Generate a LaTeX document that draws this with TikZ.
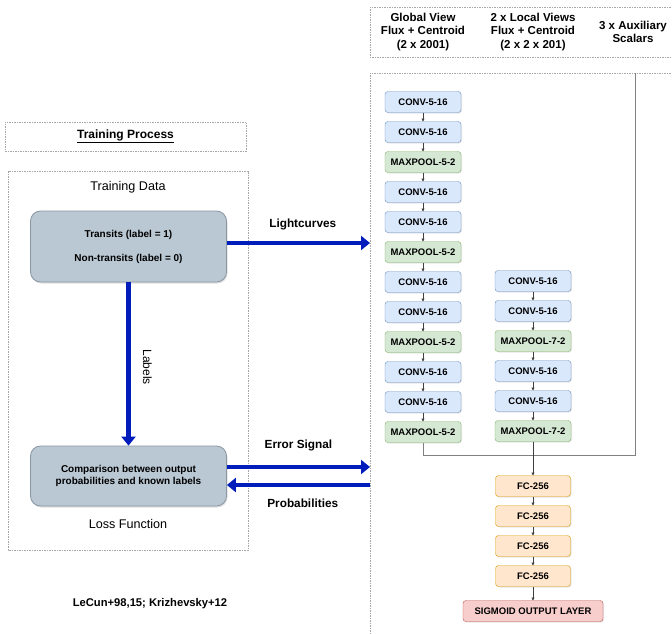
\documentclass[tikz,border=0pt]{standalone}
\usepackage{fontspec}
\setmainfont{Liberation Sans}
\usetikzlibrary{positioning, arrows.meta, shadows}

\definecolor{convfill}{HTML}{DAE8FC}
\definecolor{convline}{HTML}{6C8EBF}
\definecolor{poolfill}{HTML}{D5E8D4}
\definecolor{poolline}{HTML}{82B366}
\definecolor{fcfill}{HTML}{FFE6CC}
\definecolor{fcline}{HTML}{D79B00}
\definecolor{outfill}{HTML}{F8CECC}
\definecolor{outborder}{HTML}{B85450}
\definecolor{datafill}{HTML}{BAC8D3}
\definecolor{dataline}{HTML}{8A97A3}
\definecolor{flowblue}{HTML}{001DBC}

\begin{document}
\begin{tikzpicture}[
            x=1pt, y=-1pt,
            node distance=9pt,
            layer/.style={rectangle, draw, rounded corners=3pt, minimum width=76pt, minimum height=21pt, inner sep=0pt, outer sep=0pt,
                font=\fontsize{9.5}{11}\selectfont\bfseries, drop shadow={shadow xshift=1pt, shadow yshift=-1pt, opacity=0.2}},
            conv/.style={layer, fill=convfill, draw=convline},
            pool/.style={layer, fill=poolfill, draw=poolline},
            fc/.style={layer, fill=fcfill, draw=fcline, minimum width=75pt},
            sigmoid/.style={layer, fill=outfill, draw=outborder, minimum width=140pt},
            databox/.style={rectangle, draw=dataline, fill=datafill, rounded corners=10pt, minimum width=196pt, thick, align=center,
                font=\fontsize{10}{12.5}\selectfont\bfseries, drop shadow={shadow xshift=1pt, shadow yshift=-1.5pt, opacity=0.25}},
            header/.style={align=center, font=\fontsize{11.5}{13.2}\selectfont\bfseries},
            frame/.style={draw=gray!70, dash pattern=on 1.5pt off 1pt},
            flow/.style={draw=flowblue, line width=4.5pt, -{Triangle[length=9pt, width=14pt]}},
            flowlabel/.style={font=\fontsize{11.8}{14}\selectfont\bfseries},
            layerarrow/.style={draw=black!75, line width=0.5pt, -{Triangle[length=3pt, width=3pt]}},
            merge/.style={draw=gray, line width=1pt}
        ]
        \useasboundingbox (0,0) rectangle (672,634);

        % Network input headers
        \draw[frame] (673,7) -- (370,7) -- (370,57) -- (673,57);
        \node[header] (hglobal) at (423,32) {Global View\\Flux + Centroid\\(2 x 2001)};
        \node[header] (hlocal) at (533,32) {2 x Local Views\\Flux + Centroid\\(2 x 2 x 201)};
        \node[header] (haux) at (633,31.5) {3 x Auxiliary\\Scalars};

        % Network frame
        \draw[frame] (673,73) -- (370,73) -- (370,635);

        % Global view column
        \node[conv] (g1) at (423,102) {CONV-5-16};
        \node[conv, below=of g1] (g2) {CONV-5-16};
        \node[pool, below=of g2] (g3) {MAXPOOL-5-2};
        \node[conv, below=of g3] (g4) {CONV-5-16};
        \node[conv, below=of g4] (g5) {CONV-5-16};
        \node[pool, below=of g5] (g6) {MAXPOOL-5-2};
        \node[conv, below=of g6] (g7) {CONV-5-16};
        \node[conv, below=of g7] (g8) {CONV-5-16};
        \node[pool, below=of g8] (g9) {MAXPOOL-5-2};
        \node[conv, below=of g9] (g10) {CONV-5-16};
        \node[conv, below=of g10] (g11) {CONV-5-16};
        \node[pool, below=of g11] (g12) {MAXPOOL-5-2};

        % Local view column
        \node[conv] (l1) at (533,281) {CONV-5-16};
        \node[conv, below=of l1] (l2) {CONV-5-16};
        \node[pool, below=of l2] (l3) {MAXPOOL-7-2};
        \node[conv, below=of l3] (l4) {CONV-5-16};
        \node[conv, below=of l4] (l5) {CONV-5-16};
        \node[pool, below=of l5] (l6) {MAXPOOL-7-2};

        % Fully connected part
        \node[fc] (fc1) at (533,486) {FC-256};
        \node[fc, below=of fc1] (fc2) {FC-256};
        \node[fc, below=of fc2] (fc3) {FC-256};
        \node[fc, below=of fc3] (fc4) {FC-256};
        \node[sigmoid, below=14pt of fc4] (out) {SIGMOID OUTPUT LAYER};

        \draw[layerarrow] (g1) -- (g2); \draw[layerarrow] (g2) -- (g3); \draw[layerarrow] (g3) -- (g4);
        \draw[layerarrow] (g4) -- (g5); \draw[layerarrow] (g5) -- (g6); \draw[layerarrow] (g6) -- (g7);
        \draw[layerarrow] (g7) -- (g8); \draw[layerarrow] (g8) -- (g9); \draw[layerarrow] (g9) -- (g10);
        \draw[layerarrow] (g10) -- (g11); \draw[layerarrow] (g11) -- (g12);
        \draw[layerarrow] (l1) -- (l2); \draw[layerarrow] (l2) -- (l3); \draw[layerarrow] (l3) -- (l4);
        \draw[layerarrow] (l4) -- (l5); \draw[layerarrow] (l5) -- (l6);
        \draw[layerarrow] (fc1) -- (fc2); \draw[layerarrow] (fc2) -- (fc3); \draw[layerarrow] (fc3) -- (fc4);
        \draw[layerarrow] (fc4) -- (out);

        % Merging the columns
        \coordinate (join) at (635,455);
        \coordinate (auxtop) at (635,73);
        \draw[merge] (g12.south) |- (join) -- (auxtop);
        \draw[layerarrow] (l6) -- (fc1);

        % Training side
        \node[frame, minimum width=241pt, minimum height=29pt, font=\fontsize{12}{14}\selectfont\bfseries] (title) at (125.5,136.5) {\underline{Training Process}};
        \draw[frame] (8,171) rectangle (248,550);
        \node[font=\fontsize{12.6}{15}\selectfont] (datatitle) at (128,187) {Training Data};
        \node[databox, minimum height=71pt] (data) at (128.5,246.5) {Transits (label = 1)\\[11.5pt]Non-transits (label = 0)};
        \node[databox, minimum height=60pt] (loss) at (128.5,476) {Comparison between output\\probabilities and known labels};
        \node[font=\fontsize{12.6}{15}\selectfont] (losstitle) at (128,524) {Loss Function};
        \node[font=\fontsize{11.2}{13}\selectfont\bfseries] (cite) at (150,604) {LeCun+98,15; Krizhevsky+12};

        % Data flow
        \coordinate (netin) at (370,243);
        \coordinate (errin) at (370,467);
        \coordinate (probout) at (370,485);
        \draw[flow] (data.east |- netin) -- node[pos=0.53, above=7pt, flowlabel] {Lightcurves} (netin);
        \draw[flow] (data) -- node[pos=0.52, xshift=19pt, rotate=-90, font=\fontsize{12}{14}\selectfont] {Labels} (loss);
        \draw[flow] (loss.east |- errin) -- node[above=10pt, flowlabel] {Error Signal} (errin);
        \draw[flow] (probout) -- node[pos=0.47, below=8pt, flowlabel] {Probabilities} (loss.east |- probout);

    \end{tikzpicture}
\end{document}
